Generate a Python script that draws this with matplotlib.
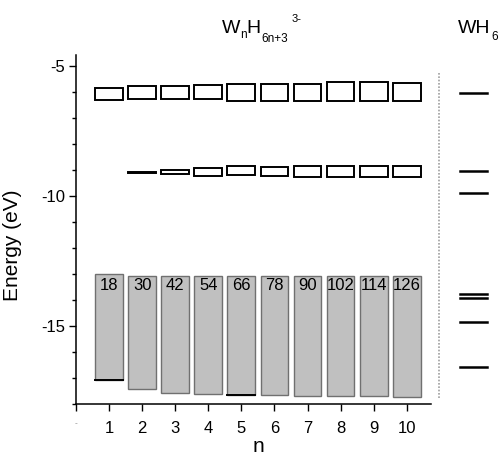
import numpy as np
import matplotlib
matplotlib.use("Agg")
import matplotlib.pyplot as plt
from matplotlib.ticker import MultipleLocator

plt.rcParams['font.family'] = ['Liberation Sans', 'DejaVu Sans']
plt.rcParams['axes.unicode_minus'] = False

# cluster size n
n = np.arange(1, 11)

# unoccupied band (open boxes near -6 eV)
lumo_top = [-5.83, -5.77, -5.77, -5.73, -5.70, -5.68, -5.68, -5.62, -5.62, -5.64]
lumo_bot = [-6.30, -6.28, -6.27, -6.29, -6.34, -6.34, -6.34, -6.33, -6.34, -6.34]

# band near -9 eV (absent for n=1)
homo_top = [np.nan, -9.06, -8.99, -8.92, -8.86, -8.90, -8.86, -8.84, -8.84, -8.84]
homo_bot = [np.nan, -9.10, -9.14, -9.24, -9.21, -9.24, -9.28, -9.27, -9.27, -9.28]

# valence band (grey bars) and electron counts
band_top = [-13.00, -13.08, -13.07, -13.08, -13.08, -13.08, -13.08, -13.08, -13.08, -13.08]
band_bot = [-17.07, -17.43, -17.58, -17.62, -17.65, -17.67, -17.68, -17.69, -17.69, -17.72]
electrons = [18, 30, 42, 54, 66, 78, 90, 102, 114, 126]

# WH6 reference levels
wh6 = [-6.06, -9.03, -9.87, -13.76, -13.94, -14.85, -16.57]

W_PX, H_PX = 500, 455
fig = plt.figure(figsize=(W_PX / 100, H_PX / 100), dpi=100)
ax = fig.add_axes([0.152, 0.1121, 0.848, 0.767])

w = 0.84
# grey bands
ax.bar(n, np.array(band_top) - np.array(band_bot), bottom=band_bot, width=w,
       color='#c0c0c0', edgecolor='#707070', linewidth=1.0, zorder=2)
for xi, yb in zip(n, band_bot):
    if xi in (1, 5):
        ax.plot([xi - w / 2, xi + w / 2], [yb, yb], color='black', lw=1.4, zorder=3)
for xi, e in zip(n, electrons):
    ax.text(xi, -13.45, str(e), ha='center', va='center', fontsize=12, zorder=4)

# open boxes
ax.bar(n, np.array(lumo_top) - np.array(lumo_bot), bottom=lumo_bot, width=w,
       facecolor='white', edgecolor='black', linewidth=1.4, zorder=2)
ax.bar(n, np.array(homo_top) - np.array(homo_bot), bottom=homo_bot, width=w,
       facecolor='white', edgecolor='black', linewidth=1.4, zorder=2)

# separator and WH6 levels
ax.plot([10.97, 10.97], [-5.28, -17.77], color='#a0a0a0', lw=1.2, ls=(0, (1, 1)))
for e in wh6:
    ax.plot([11.6, 12.42], [e, e], color='black', lw=1.8)

ax.set_xlim(0, 12.82)
ax.set_ylim(-18, -4.58)

for s in ('top', 'right'):
    ax.spines[s].set_visible(False)
ax.spines['bottom'].set_bounds(0, 10.72)
for s in ('left', 'bottom'):
    ax.spines[s].set_linewidth(1.1)

ax.set_xticks(range(0, 11))
ax.set_xticklabels(['-'] + [str(i) for i in range(1, 11)], fontsize=12)
ax.get_xticklabels()[0].set_fontsize(6)
ax.get_xticklabels()[0].set_color('#888888')
ax.yaxis.set_major_locator(MultipleLocator(5))
ax.yaxis.set_minor_locator(MultipleLocator(1))
ax.tick_params(axis='y', which='major', length=5, width=1.0, labelsize=12, pad=3)
ax.tick_params(axis='y', which='minor', length=3, width=1.0)
ax.tick_params(axis='x', length=5, width=1.0, pad=7)

ax.set_xlabel('n', fontsize=15)
ax.xaxis.set_label_coords(0.43, -0.095)
ax.set_ylabel('Energy (eV)', fontsize=15)
ax.yaxis.set_label_coords(-0.128, 0.455)


def label(x, y, s, size):
    fig.text(x / W_PX, 1 - y / H_PX, s, fontsize=size, ha='left', va='baseline')


# W_nH_{6n+3}^{3-}
label(221.5, 33.3, 'W', 14)
label(240.5, 38.3, 'n', 8.5)
label(246.5, 33.3, 'H', 14)
label(261, 41.7, '6n+3', 8.5)
label(292, 21.7, '3-', 8)
# WH_6
label(458, 33.3, 'WH', 14)
label(491.5, 40, '6', 8.5)

fig.savefig('out.png', dpi=100)
